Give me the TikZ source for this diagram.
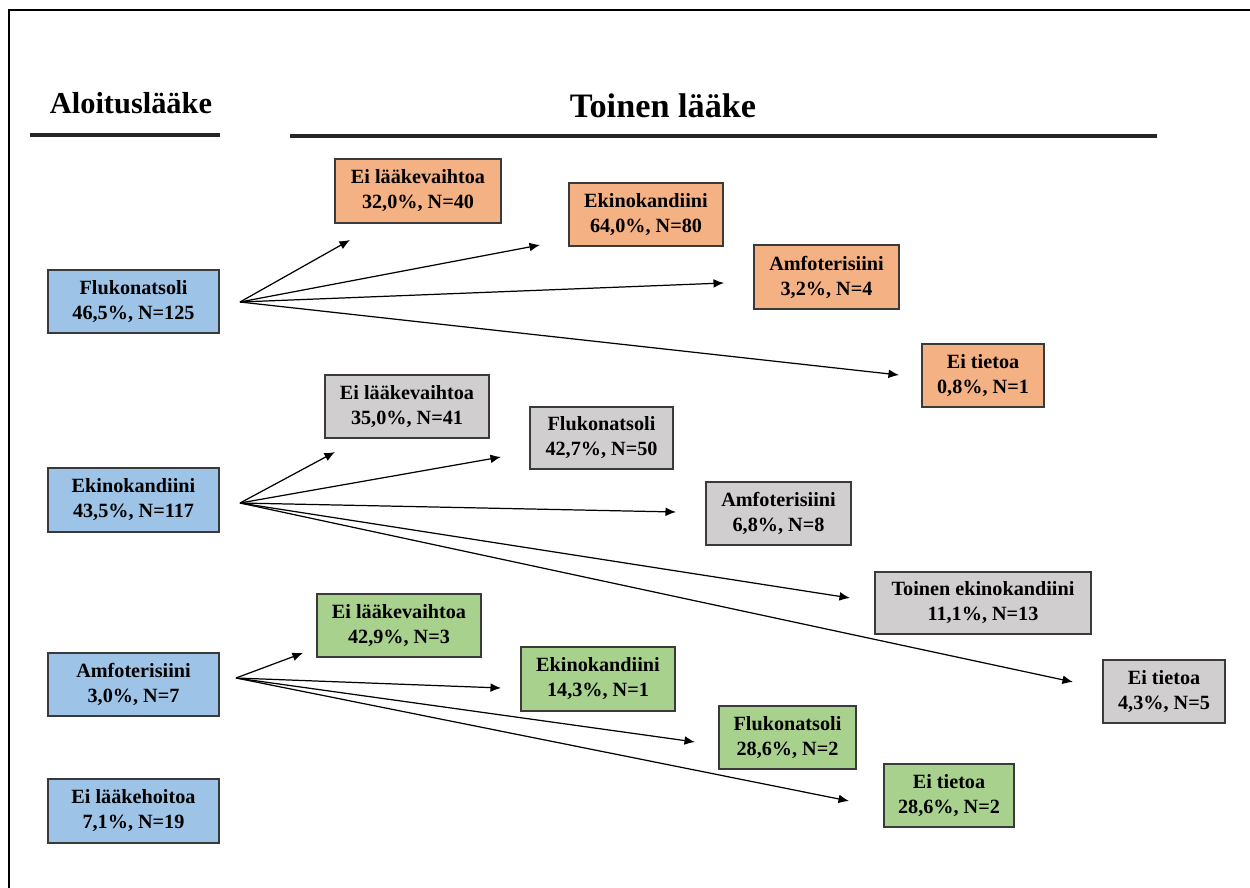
\documentclass[tikz,border=0pt]{standalone}
\usepackage{fontspec}
\setmainfont{Liberation Serif}
\usetikzlibrary{arrows.meta}
\definecolor{cblue}{HTML}{9DC3E6}
\definecolor{corange}{HTML}{F4B183}
\definecolor{cgray}{HTML}{D0CECE}
\definecolor{cgreen}{HTML}{A9D18E}
\definecolor{cedge}{HTML}{3A3A3A}
\tikzset{
  bx/.style={draw=cedge, line width=0.85pt, inner sep=0pt, align=center,
    font=\fontsize{11.5}{14.2}\selectfont\bfseries},
  arr/.style={line width=0.7pt, -{Latex[length=6pt,width=5pt]}},
  rule/.style={line width=2pt, draw=black!85},
  heading/.style={font=\bfseries, inner sep=0pt}
}
% \bxat{name}{x1}{y1}{x2}{y2}{fill}{text}
\newcommand{\bxat}[7]{%
  \node[bx, fill=#6, minimum width={(#4-#2)*0.02cm}, minimum height={(#5-#3)*0.02cm}]
    (#1) at ({(#2+#4)/2},{(#3+#5)/2}) {#7};}
\begin{document}
\begin{tikzpicture}[x=0.02cm, y=-0.02cm]
\useasboundingbox (0,0) rectangle (1250,888);
% frame
\draw[line width=1.2pt] (9,888) -- (9,10) -- (1250,10);
% headings
\node[heading, font=\fontsize{17.3}{20}\selectfont\bfseries] (h1) at (131,103) {Aloituslääke};
\draw[rule] (30,135) -- (220,135);
\node[heading, font=\fontsize{19.5}{22}\selectfont\bfseries] (h2) at (663,106) {Toinen lääke};
\draw[rule] (290,136) -- (1157,136);

% left boxes
\bxat{lf}{48}{270}{219}{333}{cblue}{Flukonatsoli\\46,5\%, N=125}
\bxat{le}{48}{468}{219}{532}{cblue}{Ekinokandiini\\43,5\%, N=117}
\bxat{la}{48}{653}{219}{716}{cblue}{Amfoterisiini\\3,0\%, N=7}
\bxat{ln}{48}{779}{219}{843}{cblue}{Ei lääkehoitoa\\7,1\%, N=19}

% orange
\bxat{o1}{335}{159}{501}{223}{corange}{Ei lääkevaihtoa\\32,0\%, N=40}
\bxat{o2}{569}{183}{723}{246}{corange}{Ekinokandiini\\64,0\%, N=80}
\bxat{o3}{754}{245}{899}{309}{corange}{Amfoterisiini\\3,2\%, N=4}
\bxat{o4}{922}{344}{1044}{407}{corange}{Ei tietoa\\0,8\%, N=1}

% gray
\bxat{g1}{325}{375}{489}{438}{cgray}{Ei lääkevaihtoa\\35,0\%, N=41}
\bxat{g2}{530}{407}{673}{469}{cgray}{Flukonatsoli\\42,7\%, N=50}
\bxat{g3}{706}{482}{851}{545}{cgray}{Amfoterisiini\\6,8\%, N=8}
\bxat{g4}{875}{572}{1091}{634}{cgray}{Toinen ekinokandiini\\11,1\%, N=13}
\bxat{g5}{1103}{660}{1225}{723}{cgray}{Ei tietoa\\4,3\%, N=5}

% green
\bxat{n1}{317}{594}{481}{657}{cgreen}{Ei lääkevaihtoa\\42,9\%, N=3}
\bxat{n2}{521}{647}{675}{711}{cgreen}{Ekinokandiini\\14,3\%, N=1}
\bxat{n3}{719}{706}{856}{769}{cgreen}{Flukonatsoli\\28,6\%, N=2}
\bxat{n4}{884}{764}{1014}{827}{cgreen}{Ei tietoa\\28,6\%, N=2}

% arrow origins and tips
\coordinate (sf) at (240,302);
\coordinate (se) at (240,503);
\coordinate (sa) at (236,678);
\coordinate (to1) at (350,240);
\coordinate (to2) at (540,245);
\coordinate (to3) at (724,283);
\coordinate (to4) at (899,375);
\coordinate (tg1) at (335,452);
\coordinate (tg2) at (501,457);
\coordinate (tg3) at (676,512);
\coordinate (tg4) at (850,598);
\coordinate (tg5) at (1073,682);
\coordinate (tn1) at (303,653);
\coordinate (tn2) at (501,688);
\coordinate (tn3) at (695,742);
\coordinate (tn4) at (849,801);

\foreach \t in {to1,to2,to3,to4} \draw[arr] (sf) -- (\t);
\foreach \t in {tg1,tg2,tg3,tg4,tg5} \draw[arr] (se) -- (\t);
\foreach \t in {tn1,tn2,tn3,tn4} \draw[arr] (sa) -- (\t);
\end{tikzpicture}
\end{document}
